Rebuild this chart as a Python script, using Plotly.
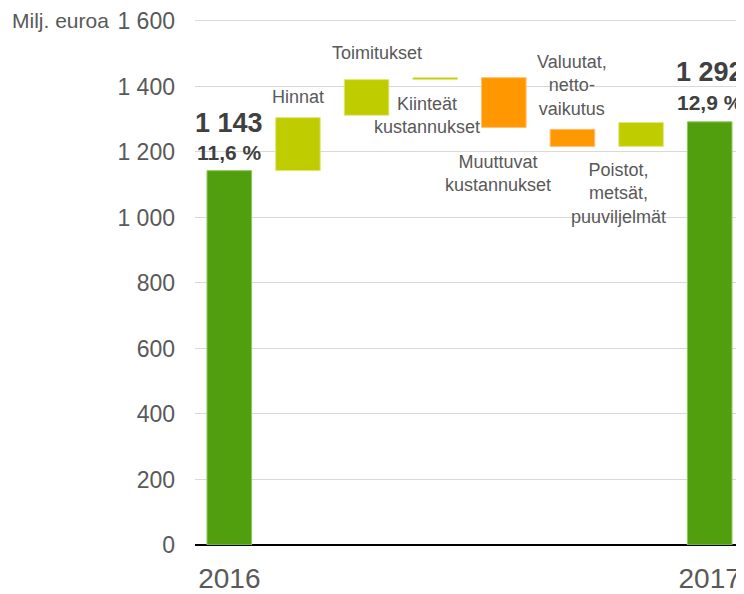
import plotly.graph_objects as go

categories = ["2016", "Hinnat", "Toimitukset", "Kiinteät", "Muuttuvat", "Valuutat", "Poistot", "2017"]
bar_start = [0, 1143, 1312, 1421, 1427, 1269, 1217, 0]
bar_end = [1143, 1305, 1421, 1427, 1275, 1217, 1290, 1292]
bar_kind = ["total", "up", "up", "up", "down", "down", "up", "total"]
xtick_text = ["2016", "", "", "", "", "", "", "2017"]
ytick_vals = [0, 200, 400, 600, 800, 1000, 1200, 1400, 1600]
ytick_text = ["0", "200", "400", "600", "800", "1 000", "1 200", "1 400", "1 600"]

kind_color = {"total": "#519F0E", "up": "#BFCD00", "down": "#FF9800"}
edge_color = {"total": "#8CCB5A", "up": "#E0E880", "down": "#FFC070"}

pos = list(range(len(categories)))
idx = {c: i for i, c in enumerate(categories)}
deltas = [e - s for s, e in zip(bar_start, bar_end)]

fig = go.Figure(go.Bar(
    x=pos,
    y=deltas,
    base=bar_start,
    width=0.65,
    marker=dict(color=[kind_color[k] for k in bar_kind],
                line=dict(color=[edge_color[k] for k in bar_kind], width=1)),
    hoverinfo="skip",
))

GRAY = "#595959"
DARK = "#404040"
FONT = "Liberation Sans, Arial, sans-serif"

labels = [
    ("Hinnat", "Hinnat", 1368, 0),
    ("Toimitukset", "Toimitukset", 1502, 10),
    ("Kiinteät", "Kiinteät<br>kustannukset", 1311, -8),
    ("Muuttuvat", "Muuttuvat<br>kustannukset", 1135, -6),
    ("Valuutat", "Valuutat,<br>netto-<br>vaikutus", 1402, 0),
    ("Poistot", "Poistot,<br>metsät,<br>puuviljelmät", 1072, -23),
]
annotations = []
for cat, txt, yv, xs in labels:
    annotations.append(dict(x=idx[cat], y=yv, text=txt, showarrow=False, xshift=xs,
                            font=dict(size=18, color=GRAY, family=FONT)))

value_labels = [
    ("2016", "1 143", 1290, 27),
    ("2016", "11,6 %", 1199, 21),
    ("2017", "1 292", 1443, 27),
    ("2017", "12,9 %", 1352, 21),
]
for cat, txt, yv, sz in value_labels:
    annotations.append(dict(x=idx[cat], y=yv, text="<b>" + txt + "</b>", showarrow=False,
                            font=dict(size=sz, color=DARK, family=FONT)))

annotations.append(dict(xref="paper", yref="y", x=-0.337, y=1600, xanchor="left",
                        text="Milj. euroa", showarrow=False,
                        font=dict(size=21, color=GRAY, family=FONT)))

fig.update_layout(
    width=736, height=586,
    margin=dict(l=187, r=0, t=9.5, b=46.5),
    paper_bgcolor="white", plot_bgcolor="white",
    showlegend=False,
    font=dict(family=FONT, color=GRAY),
    annotations=annotations,
    xaxis=dict(
        range=[-0.5, len(categories) - 0.5],
        tickmode="array", tickvals=pos, ticktext=xtick_text,
        tickangle=0,
        tickfont=dict(size=28, color=GRAY),
        showgrid=False, showline=False, ticks="", zeroline=False,
        ticklabelstandoff=14,
        ticklabeloverflow="allow",
    ),
    yaxis=dict(
        range=[0, 1606],
        tickvals=ytick_vals, ticktext=ytick_text,
        tickfont=dict(size=23, color=GRAY),
        showgrid=True, gridcolor="#D9D9D9", gridwidth=1,
        zeroline=True, zerolinecolor="#000000", zerolinewidth=1.5,
        showline=False, ticks="",
        ticklabelstandoff=19,
        ticklabeloverflow="allow",
    ),
)

fig.write_html("out.html")
